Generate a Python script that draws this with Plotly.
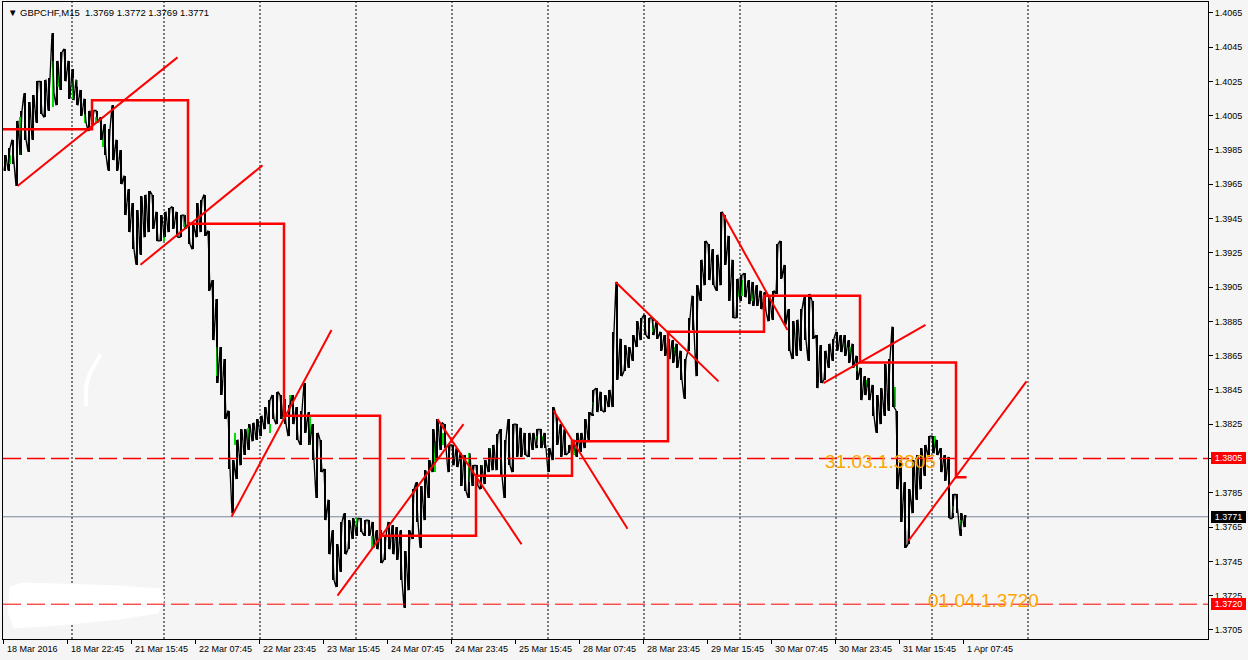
import plotly.graph_objects as go

# ---------------- data ----------------
chart_title = "▼ GBPCHF,M15  1.3769 1.3772 1.3769 1.3771"

bars_per_hour = 4  # M15 bars per hourly range

hour_high = [
    1.3982, 1.3986, 1.3991, 1.4002, 1.4008, 1.4018, 1.4013, 1.4017, 1.4025, 1.4025,
    1.4026, 1.4027, 1.4053, 1.4037, 1.4042, 1.4044, 1.4037, 1.4032, 1.4026, 1.4020,
    1.4015, 1.4008, 1.4008, 1.4008, 1.4004, 1.4000, 1.3997, 1.4011, 1.3991, 1.3985,
    1.3970, 1.3962, 1.3954, 1.3950, 1.3958, 1.3959, 1.3961, 1.3959, 1.3949, 1.3947,
    1.3949, 1.3951, 1.3952, 1.3949, 1.3947, 1.3947, 1.3943, 1.3941, 1.3954, 1.3956,
    1.3959, 1.3938, 1.3909, 1.3898, 1.3870, 1.3863, 1.3833, 1.3804, 1.3816, 1.3822,
    1.3822, 1.3825, 1.3826, 1.3828, 1.3830, 1.3835, 1.3839, 1.3842, 1.3844, 1.3842,
    1.3840, 1.3836, 1.3842, 1.3835, 1.3833, 1.3849, 1.3832, 1.3825, 1.3820, 1.3816,
    1.3799, 1.3781, 1.3763, 1.3755, 1.3768, 1.3773, 1.3769, 1.3770, 1.3770, 1.3770,
    1.3769, 1.3769, 1.3768, 1.3763, 1.3763, 1.3760, 1.3768, 1.3766, 1.3765, 1.3763,
    1.3751, 1.3763, 1.3787, 1.3791, 1.3789, 1.3798, 1.3804, 1.3822, 1.3828, 1.3826,
    1.3825, 1.3813, 1.3813, 1.3811, 1.3808, 1.3807, 1.3808, 1.3801, 1.3801, 1.3801,
    1.3804, 1.3811, 1.3813, 1.3819, 1.3822, 1.3816, 1.3828, 1.3825, 1.3825, 1.3823,
    1.3820, 1.3820, 1.3820, 1.3822, 1.3822, 1.3820, 1.3811, 1.3835, 1.3830, 1.3825,
    1.3822, 1.3813, 1.3816, 1.3820, 1.3820, 1.3828, 1.3832, 1.3845, 1.3846, 1.3844,
    1.3842, 1.3845, 1.3879, 1.3908, 1.3875, 1.3871, 1.3870, 1.3877, 1.3885, 1.3887,
    1.3889, 1.3887, 1.3887, 1.3885, 1.3879, 1.3877, 1.3875, 1.3874, 1.3872, 1.3868,
    1.3863, 1.3887, 1.3900, 1.3906, 1.3921, 1.3932, 1.3930, 1.3927, 1.3924, 1.3949,
    1.3947, 1.3935, 1.3921, 1.3910, 1.3912, 1.3913, 1.3909, 1.3908, 1.3906, 1.3903,
    1.3902, 1.3899, 1.3903, 1.3930, 1.3932, 1.3918, 1.3892, 1.3885, 1.3886, 1.3892,
    1.3899, 1.3901, 1.3897, 1.3877, 1.3871, 1.3868, 1.3872, 1.3875, 1.3879, 1.3877,
    1.3877, 1.3874, 1.3872, 1.3865, 1.3858, 1.3853, 1.3852, 1.3848, 1.3842, 1.3846,
    1.3860, 1.3863, 1.3882, 1.3833, 1.3804, 1.3791, 1.3787, 1.3804, 1.3807, 1.3811,
    1.3813, 1.3818, 1.3818, 1.3816, 1.3811, 1.3807, 1.3806, 1.3784, 1.3784, 1.3773,
    1.3772,
]

hour_low = [
    1.3973, 1.3973, 1.3977, 1.3964, 1.3982, 1.3991, 1.3984, 1.3991, 1.4001, 1.4006,
    1.4004, 1.4008, 1.4018, 1.4011, 1.4020, 1.4025, 1.4015, 1.4014, 1.4011, 1.4005,
    1.4001, 1.3996, 1.4000, 1.4001, 1.3991, 1.3982, 1.3973, 1.3979, 1.3973, 1.3965,
    1.3947, 1.3937, 1.3927, 1.3918, 1.3924, 1.3934, 1.3937, 1.3939, 1.3932, 1.3932,
    1.3934, 1.3937, 1.3939, 1.3934, 1.3934, 1.3939, 1.3930, 1.3927, 1.3934, 1.3937,
    1.3935, 1.3903, 1.3874, 1.3849, 1.3842, 1.3828, 1.3799, 1.3773, 1.3793, 1.3801,
    1.3807, 1.3810, 1.3815, 1.3816, 1.3818, 1.3822, 1.3825, 1.3828, 1.3825, 1.3828,
    1.3825, 1.3818, 1.3825, 1.3816, 1.3813, 1.3820, 1.3813, 1.3804, 1.3782, 1.3797,
    1.3769, 1.3749, 1.3734, 1.3730, 1.3739, 1.3749, 1.3752, 1.3758, 1.3760, 1.3762,
    1.3760, 1.3760, 1.3753, 1.3752, 1.3744, 1.3746, 1.3752, 1.3749, 1.3746, 1.3734,
    1.3718, 1.3728, 1.3758, 1.3768, 1.3753, 1.3769, 1.3782, 1.3797, 1.3804, 1.3810,
    1.3811, 1.3797, 1.3801, 1.3800, 1.3789, 1.3786, 1.3782, 1.3789, 1.3789, 1.3787,
    1.3790, 1.3797, 1.3798, 1.3798, 1.3795, 1.3782, 1.3801, 1.3797, 1.3806, 1.3806,
    1.3807, 1.3806, 1.3810, 1.3811, 1.3811, 1.3811, 1.3797, 1.3804, 1.3813, 1.3806,
    1.3807, 1.3808, 1.3807, 1.3806, 1.3809, 1.3811, 1.3816, 1.3830, 1.3832, 1.3833,
    1.3832, 1.3835, 1.3835, 1.3851, 1.3853, 1.3856, 1.3858, 1.3862, 1.3870, 1.3874,
    1.3877, 1.3875, 1.3877, 1.3875, 1.3868, 1.3865, 1.3863, 1.3861, 1.3858, 1.3851,
    1.3840, 1.3868, 1.3880, 1.3853, 1.3897, 1.3906, 1.3909, 1.3906, 1.3903, 1.3906,
    1.3918, 1.3897, 1.3887, 1.3887, 1.3897, 1.3899, 1.3895, 1.3894, 1.3894, 1.3892,
    1.3891, 1.3885, 1.3886, 1.3901, 1.3910, 1.3883, 1.3868, 1.3863, 1.3865, 1.3868,
    1.3874, 1.3862, 1.3875, 1.3846, 1.3849, 1.3851, 1.3858, 1.3862, 1.3868, 1.3867,
    1.3865, 1.3861, 1.3858, 1.3851, 1.3839, 1.3842, 1.3839, 1.3830, 1.3820, 1.3825,
    1.3830, 1.3833, 1.3835, 1.3787, 1.3768, 1.3753, 1.3755, 1.3773, 1.3781, 1.3787,
    1.3795, 1.3806, 1.3808, 1.3807, 1.3797, 1.3792, 1.3770, 1.3770, 1.3773, 1.3760,
    1.3765,
]

# individual bullish M15 bars visible in green
green_bar = [7, 17, 50, 55, 70, 74, 82, 93, 100, 161, 181, 214, 232, 245, 267, 287, 307, 354,
             369, 432, 440, 466, 479, 487, 534, 540, 571, 590, 650, 672, 736, 739, 749, 841,
             847, 854, 864, 892, 932, 950, 958]
green_high = [1.3982, 1.4004, 1.4037, 1.4035, 1.4027, 1.4026, 1.4006, 1.4004, 1.3996, 1.3938,
              1.3947, 1.3870, 1.3820, 1.3823, 1.3825, 1.3842, 1.3830, 1.3770, 1.3760, 1.3815,
              1.3820, 1.3808, 1.3801, 1.3811, 1.3818, 1.3818, 1.3811, 1.3838, 1.3885, 1.3870,
              1.3910, 1.3909, 1.3906, 1.3875, 1.3870, 1.3861, 1.3851, 1.3847, 1.3818, 1.3777,
              1.3769]
green_low = [1.3977, 1.3982, 1.4010, 1.4022, 1.4015, 1.4022, 1.4001, 1.4001, 1.3987, 1.3932,
             1.3940, 1.3853, 1.3813, 1.3815, 1.3820, 1.3835, 1.3813, 1.3765, 1.3753, 1.3797,
             1.3813, 1.3791, 1.3797, 1.3806, 1.3813, 1.3813, 1.3807, 1.3831, 1.3879, 1.3865,
             1.3899, 1.3900, 1.3897, 1.3870, 1.3865, 1.3856, 1.3847, 1.3835, 1.3811, 1.3773,
             1.3764]

# time axis labels (bar index of each label) and text
label_bars = [0, 64, 128, 192, 256, 320, 384, 448, 512, 576, 640, 704, 768, 832, 896, 960]
label_text = ["18 Mar 2016", "18 Mar 22:45", "21 Mar 15:45", "22 Mar 07:45", "22 Mar 23:45",
              "23 Mar 15:45", "24 Mar 07:45", "24 Mar 23:45", "25 Mar 15:45", "28 Mar 07:45",
              "28 Mar 23:45", "29 Mar 15:45", "30 Mar 07:45", "30 Mar 23:45", "31 Mar 15:45",
              "1 Apr 07:45"]

# first bar of each trading day (period separators)
day_start_bars = [69, 161, 257, 353, 449, 545, 641, 737, 833, 929, 1025]

# price scale
price_ticks = [1.3705, 1.3725, 1.3745, 1.3765, 1.3785, 1.3805, 1.3825, 1.3845, 1.3865, 1.3885,
               1.3905, 1.3925, 1.3945, 1.3965, 1.3985, 1.4005, 1.4025, 1.4045, 1.4065]
price_min, price_max = 1.36997, 1.40713
bar_min, bar_max = -0.5, 1204.5

# daily step levels
step_change_bars = [89, 185, 281, 377, 473, 569, 665, 761, 857, 953]
step_levels = [1.3997, 1.4014, 1.3942, 1.3830, 1.3760, 1.3795, 1.3815, 1.3879, 1.3900, 1.3861, 1.3794]
step_end_bar = 963

# trend lines
trend_bar0 = [14, 137, 228, 334, 434, 550, 612, 719, 820, 905]
trend_px0 = [1.3964, 1.3918, 1.3771, 1.3725, 1.3828, 1.3833, 1.3908, 1.3948, 1.3849, 1.3757]
trend_bar1 = [174, 259, 328, 460, 518, 624, 715, 784, 922, 1023]
trend_px1 = [1.4039, 1.3976, 1.3880, 1.3825, 1.3755, 1.3764, 1.3850, 1.3880, 1.3883, 1.3850]

# horizontal levels
level_a = 1.3805
level_b = 1.3720
last_price = 1.3771
level_a_text = "31.03.1.3805"
level_b_text = "01.04.1.3720"
level_a_text_pos = (819, 1.3803)
level_b_text_pos = (922, 1.3722)

# ---------------- figure ----------------
FONT = "Liberation Sans, Arial, sans-serif"
BG = "#f5f5f5"

n = len(hour_high)
hour_x = [bars_per_hour * k + 1.5 for k in range(n)]
ranges = [h - l for h, l in zip(hour_high, hour_low)]

# price path: within each hour visit high and low in the order implied by the next hour
px_x, px_y = [], []
for k in range(n):
    mid = (hour_high[k] + hour_low[k]) / 2
    nxt = (hour_high[k + 1] + hour_low[k + 1]) / 2 if k + 1 < n else mid
    first, second = (hour_high[k], hour_low[k]) if nxt < mid else (hour_low[k], hour_high[k])
    px_x += [bars_per_hour * k + 0.5, bars_per_hour * k + 2.5]
    px_y += [first, second]

# screen-pixel helpers for the hand-drawn white scribbles (not data)
PX_L, PX_T, PX_B = 3.0, 2.0, 639.0
def to_bar(xp):
    return bar_min + (xp - PX_L) * (bar_max - bar_min) / 1205.0
def to_price(yp):
    return price_max - (yp - PX_T) * (price_max - price_min) / (PX_B - PX_T)

fig = go.Figure()

# white erased blob (bottom left) and stroke, drawn underneath everything else
blob_px = [(10, 587), (22, 583), (60, 584), (120, 586), (160, 589), (164, 600), (158, 613),
           (120, 619), (60, 625), (14, 628), (8, 612), (10, 587)]
fig.add_trace(go.Scatter(x=[to_bar(a) for a, b in blob_px], y=[to_price(b) for a, b in blob_px],
                         mode="lines", fill="toself", fillcolor="white",
                         line=dict(color="white", width=1), hoverinfo="skip", showlegend=False))
stroke_px = [(101, 354), (95, 364), (89, 376), (86, 388), (86, 397), (86, 406)]
fig.add_trace(go.Scatter(x=[to_bar(a) for a, b in stroke_px], y=[to_price(b) for a, b in stroke_px],
                         mode="lines", line=dict(color="white", width=4, shape="spline"),
                         hoverinfo="skip", showlegend=False))

fig.add_trace(go.Bar(
    x=hour_x, y=ranges, base=hour_low, width=1.4,
    marker=dict(color="black", line=dict(width=0)),
    hoverinfo="skip", showlegend=False,
))
fig.add_trace(go.Scatter(x=px_x, y=px_y, mode="lines", line=dict(color="black", width=1.3),
                         hoverinfo="skip", showlegend=False))
fig.add_trace(go.Bar(
    x=green_bar, y=[h - l for h, l in zip(green_high, green_low)], base=green_low, width=1.3,
    marker=dict(color="#00dd00", line=dict(width=0)),
    hoverinfo="skip", showlegend=False,
))

# step line
sx = [bar_min] + [b - 0.5 for b in step_change_bars] + [step_end_bar]
sy = step_levels + [step_levels[-1]]
fig.add_trace(go.Scatter(x=sx, y=sy, mode="lines", line=dict(color="#ff0000", width=2.5, shape="hv"),
                         hoverinfo="skip", showlegend=False))

# trend lines
tx, ty = [], []
for b0, p0, b1, p1 in zip(trend_bar0, trend_px0, trend_bar1, trend_px1):
    tx += [b0, b1, None]
    ty += [p0, p1, None]
fig.add_trace(go.Scatter(x=tx, y=ty, mode="lines", line=dict(color="#ff0000", width=2),
                         hoverinfo="skip", showlegend=False))

shapes = []
# period separators
for b in day_start_bars:
    shapes.append(dict(type="line", xref="x", yref="paper", x0=b - 0.5, x1=b - 0.5, y0=0, y1=1,
                       line=dict(color="black", width=1, dash="2px,2px"), layer="below"))

# horizontal levels
shapes.append(dict(type="line", xref="paper", yref="y", x0=0, x1=1, y0=last_price, y1=last_price,
                   line=dict(color="#778899", width=1), layer="below"))
shapes.append(dict(type="line", xref="paper", yref="y", x0=0, x1=1, y0=level_a, y1=level_a,
                   line=dict(color="#ff0000", width=1.6, dash="18px,6px"), layer="above"))
shapes.append(dict(type="line", xref="paper", yref="y", x0=0, x1=1, y0=level_b, y1=level_b,
                   line=dict(color="#ff0000", width=1, dash="18px,6px"), layer="above"))

annotations = []
annotations.append(dict(xref="paper", yref="paper", x=0, y=1, xanchor="left", yanchor="top",
                        xshift=3, yshift=-3, text=chart_title, showarrow=False,
                        font=dict(family=FONT, size=9.5, color="black")))
for b, t in zip(label_bars, label_text):
    annotations.append(dict(xref="x", yref="paper", x=b, y=0, xanchor="left", yanchor="top",
                            xshift=1, yshift=-3, text=t, showarrow=False,
                            font=dict(family=FONT, size=9, color="black")))
for val, col in [(level_a, "#ff0000"), (last_price, "black"), (level_b, "#ff0000")]:
    annotations.append(dict(xref="paper", yref="y", x=1, y=val, xanchor="left", yanchor="middle",
                            xshift=3, text=f"{val:.4f}", showarrow=False, bgcolor=col,
                            width=33, height=10, borderpad=0, borderwidth=1, bordercolor=col,
                            font=dict(family=FONT, size=9, color="white")))
for (bx, py), txt in [(level_a_text_pos, level_a_text), (level_b_text_pos, level_b_text)]:
    annotations.append(dict(xref="x", yref="y", x=bx, y=py, xanchor="left", yanchor="middle",
                            text=txt, showarrow=False,
                            font=dict(family=FONT, size=19, color="#ffa500")))

fig.update_layout(
    width=1248, height=660,
    margin=dict(l=3, r=40, t=2, b=21, pad=0),
    paper_bgcolor=BG, plot_bgcolor=BG,
    shapes=shapes, annotations=annotations,
    showlegend=False, bargap=0, barmode="overlay",
    xaxis=dict(range=[bar_min, bar_max], showgrid=False, zeroline=False,
               showline=True, linecolor="black", linewidth=1, mirror=True,
               tickvals=label_bars, ticks="outside", ticklen=4, tickcolor="black",
               showticklabels=False, fixedrange=True),
    yaxis=dict(range=[price_min, price_max], side="right", showgrid=False, zeroline=False,
               showline=True, linecolor="black", linewidth=1, mirror=True,
               tickvals=price_ticks, ticktext=[f"{v:.4f}" for v in price_ticks],
               ticks="outside", ticklen=4, tickcolor="black",
               tickfont=dict(family=FONT, size=9, color="black"), fixedrange=True),
)

fig.write_html(
    "out.html",
    config={"displayModeBar": False},
    post_script="document.body.style.margin='0px';document.body.style.overflow='hidden';"
                "document.body.style.background='" + BG + "';",
)
